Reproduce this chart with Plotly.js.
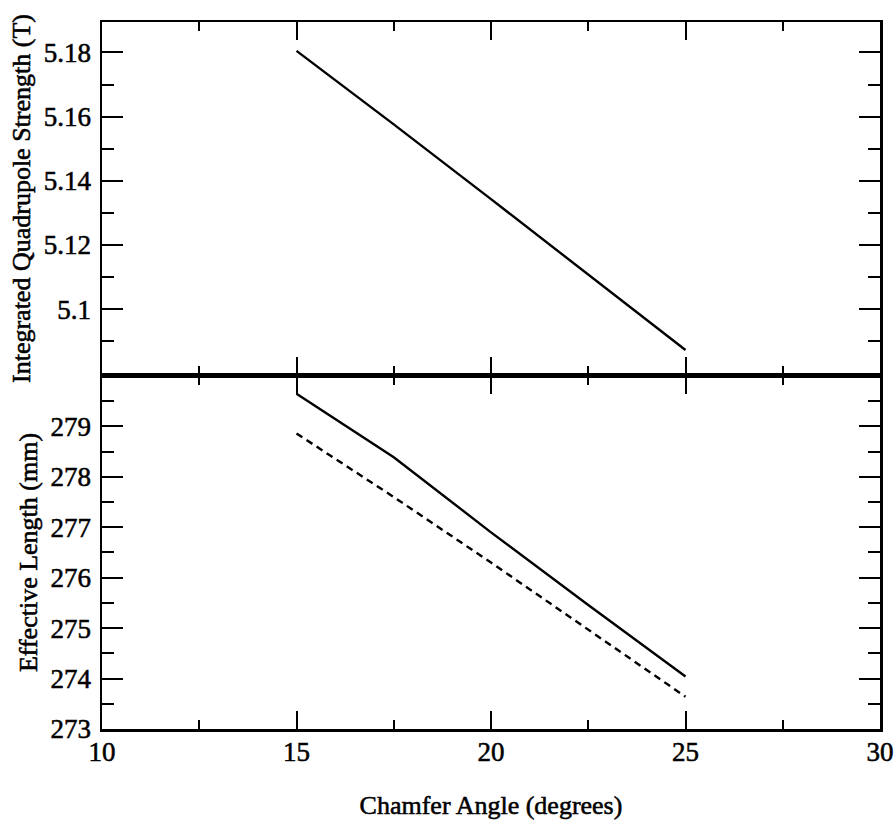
<!DOCTYPE html>
<html>
<head>
<meta charset="utf-8">
<script src="https://cdn.plot.ly/plotly-3.0.1.min.js"></script>
<style>
  html, body { margin: 0; padding: 0; background: #fff; }
  #chart { width: 896px; height: 825px; }
  #chart .xtick text, #chart .ytick text, #chart .x2tick text, #chart .y2tick text,
  #chart .xtitle, #chart .ytitle, #chart .x2title, #chart .y2title {
    stroke: #000; stroke-width: 0.55px;
  }
</style>
</head>
<body>
<div id="chart"></div>
<script>
// Chamfer angle (degrees)
const chamferAngle = [15, 17.5, 20, 22.5, 25];
// Integrated quadrupole strength (T)
const quadStrength = [5.1805, 5.1576, 5.1343, 5.1108, 5.0873];
// Effective length (mm), solid curve
const effLengthSolid = [279.65, 278.39, 276.90, 275.46, 274.04];
// Effective length (mm), dashed curve
const effLengthDashed = [278.86, 277.60, 276.30, 274.97, 273.64];

const xTickVals = [10, 15, 20, 25, 30];
const xTickText = ['10', '15', '20', '25', '30'];
const topTickVals = [5.1, 5.12, 5.14, 5.16, 5.18];
const topTickText = ['5.1', '5.12', '5.14', '5.16', '5.18'];
const botTickVals = [273, 274, 275, 276, 277, 278, 279];
const botTickText = ['273', '274', '275', '276', '277', '278', '279'];

const FONT = 'Liberation Serif, Times New Roman, serif';
const lineW = 2.5;
const TICKSIZE = 27;
const TITLESIZE = 26;

const traces = [
  { x: chamferAngle, y: quadStrength, xaxis: 'x', yaxis: 'y', mode: 'lines',
    line: { color: '#000', width: 2.4 }, showlegend: false, hoverinfo: 'skip' },
  { x: chamferAngle, y: effLengthSolid, xaxis: 'x2', yaxis: 'y2', mode: 'lines',
    line: { color: '#000', width: 2.4 }, showlegend: false, hoverinfo: 'skip' },
  { x: chamferAngle, y: effLengthDashed, xaxis: 'x2', yaxis: 'y2', mode: 'lines',
    line: { color: '#000', width: 2.4, dash: '7px,5px' }, showlegend: false, hoverinfo: 'skip' }
];

const xCommon = {
  range: [10, 30], showgrid: false, zeroline: false,
  showline: true, linecolor: '#000', linewidth: lineW, mirror: 'ticks',
  ticks: 'inside', ticklen: 18, tickwidth: 2, tickcolor: '#000',
  tickmode: 'array', tickvals: xTickVals, ticktext: xTickText,
  minor: { tickmode: 'array', tickvals: [12.5, 17.5, 22.5, 27.5], ticks: 'inside', ticklen: 9, tickwidth: 2, tickcolor: '#000', showgrid: false },
  tickfont: { family: FONT, size: TICKSIZE, color: '#000' }
};

const layout = {
  width: 896, height: 825,
  paper_bgcolor: '#fff', plot_bgcolor: '#fff',
  margin: { l: 102, r: 16, t: 22, b: 96 },
  font: { family: FONT, color: '#000' },
  showlegend: false,
  xaxis: Object.assign({}, xCommon, { domain: [0, 1], anchor: 'y', showticklabels: false }),
  xaxis2: Object.assign({}, xCommon, { domain: [0, 1], anchor: 'y2', showticklabels: true, ticklabelstandoff: -3,
    title: { text: 'Chamfer Angle (degrees)', font: { family: FONT, size: TITLESIZE, color: '#000' }, standoff: 30 } }),
  yaxis: {
    domain: [0.5007, 1], anchor: 'x', range: [5.0795, 5.1895],
    showgrid: false, zeroline: false,
    showline: true, linecolor: '#000', linewidth: lineW, mirror: 'ticks',
    ticks: 'inside', ticklen: 21, tickwidth: 2, tickcolor: '#000',
    tickmode: 'array', tickvals: topTickVals, ticktext: topTickText,
    minor: { tickmode: 'array', tickvals: [5.09, 5.11, 5.13, 5.15, 5.17], ticks: 'inside', ticklen: 12, tickwidth: 2, tickcolor: '#000', showgrid: false },
    tickfont: { family: FONT, size: TICKSIZE, color: '#000' }, ticklabelstandoff: 3,
    title: { text: 'Integrated Quadrupole Strength (T)', font: { family: FONT, size: TITLESIZE, color: '#000' }, standoff: 6 }
  },
  yaxis2: {
    domain: [0, 0.4993], anchor: 'x2', range: [273, 280],
    showgrid: false, zeroline: false,
    showline: true, linecolor: '#000', linewidth: lineW, mirror: 'ticks',
    ticks: 'inside', ticklen: 21, tickwidth: 2, tickcolor: '#000',
    tickmode: 'array', tickvals: botTickVals, ticktext: botTickText,
    minor: { tickmode: 'array', tickvals: [273.5, 274.5, 275.5, 276.5, 277.5, 278.5, 279.5], ticks: 'inside', ticklen: 12, tickwidth: 2, tickcolor: '#000', showgrid: false },
    tickfont: { family: FONT, size: TICKSIZE, color: '#000' }, ticklabelstandoff: 3,
    title: { text: 'Effective Length (mm)', font: { family: FONT, size: TITLESIZE, color: '#000' }, standoff: 6 }
  }
};

Plotly.newPlot('chart', traces, layout, { staticPlot: true, displayModeBar: false });
</script>
</body>
</html>
